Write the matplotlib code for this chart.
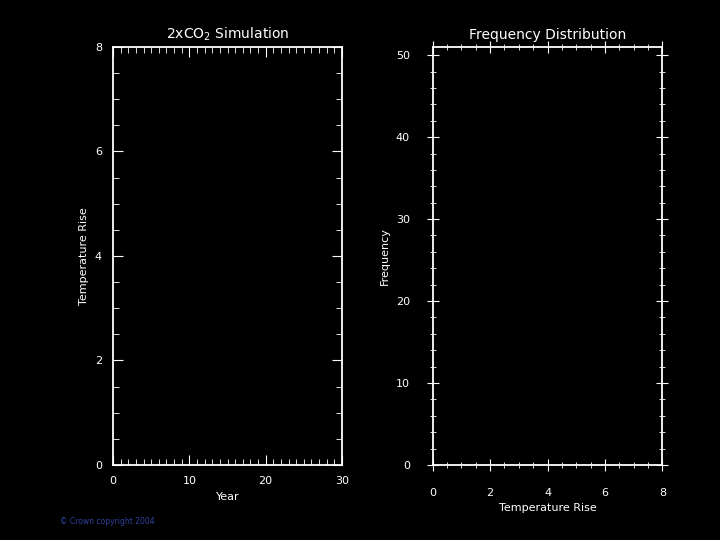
import numpy as np
import matplotlib.pyplot as plt
from matplotlib.ticker import MultipleLocator

# two empty panels: simulated temperature rise and its frequency distribution
years = []
temp_rise = []
freq_bins = []
freq_counts = []

titles = ['2xCO$_2$ Simulation', 'Frequency Distribution']

plt.rcParams['font.family'] = 'DejaVu Sans'
fig = plt.figure(figsize=(7.2, 5.4), dpi=100, facecolor='black')

ax1 = fig.add_axes([0.157, 0.139, 0.318, 0.774], facecolor='black')
ax2 = fig.add_axes([0.601, 0.139, 0.319, 0.774], facecolor='black')

ax1.plot(years, temp_rise, color='white')
ax2.bar(freq_bins, freq_counts, color='white')

ax1.set_xlim(0, 30)
ax1.set_ylim(0, 8)
ax1.xaxis.set_major_locator(MultipleLocator(10))
ax1.xaxis.set_minor_locator(MultipleLocator(1))
ax1.yaxis.set_major_locator(MultipleLocator(2))
ax1.yaxis.set_minor_locator(MultipleLocator(0.5))
ax1.tick_params(which='both', direction='in', top=True, right=True, colors='white', labelsize=8)
ax1.tick_params(which='major', length=7, pad=8)
ax1.tick_params(which='minor', length=4)
ax1.set_xlabel('Year', color='white', fontsize=8)
ax1.set_ylabel('Temperature Rise', color='white', fontsize=8)
ax1.set_title(titles[0], color='white', fontsize=10)

ax2.set_xlim(0, 8)
ax2.set_ylim(0, 51)
ax2.xaxis.set_major_locator(MultipleLocator(2))
ax2.xaxis.set_minor_locator(MultipleLocator(0.5))
ax2.yaxis.set_major_locator(MultipleLocator(10))
ax2.yaxis.set_minor_locator(MultipleLocator(2))
ax2.tick_params(which='both', direction='inout', top=True, right=True, colors='white', labelsize=8)
ax2.tick_params(which='major', length=9, pad=12)
ax2.tick_params(which='minor', length=5)
ax2.set_xlabel('Temperature Rise', color='white', fontsize=8)
ax2.set_ylabel('Frequency', color='white', fontsize=8)
ax2.set_title(titles[1], color='white', fontsize=10)

for ax in (ax1, ax2):
    for s in ax.spines.values():
        s.set_color('white')
        s.set_linewidth(1.3)

fig.text(0.083, 0.03, '\u00a9 Crown copyright 2004', color='#3040a0', fontsize=5.5)

fig.savefig('out.png', facecolor='black')
